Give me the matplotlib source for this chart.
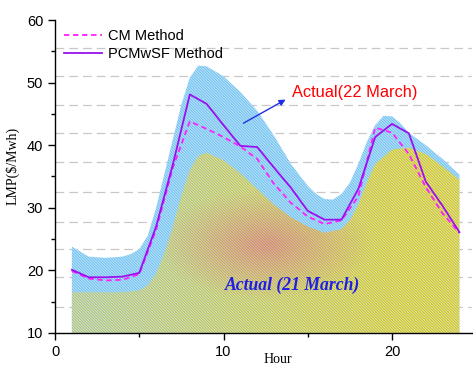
import numpy as np
import matplotlib.pyplot as plt
from matplotlib.patches import Polygon
from matplotlib.ticker import MultipleLocator

plt.rcParams['hatch.linewidth'] = 0.6

hours = list(range(1, 25))
cm_method = [19.9, 18.7, 18.4, 18.5, 19.4, 26.5, 36.5, 43.8, 42.6, 41.3, 39.8, 37.8,
             33.8, 30.8, 28.6, 27.4, 28.0, 31.8, 42.8, 42.0, 38.6, 33.3, 29.1, 26.0]
pcmwsf_method = [20.1, 18.9, 18.9, 19.0, 19.6, 27.0, 37.0, 48.1, 46.6, 43.2, 39.9, 39.7,
                 36.4, 33.2, 29.5, 28.1, 28.1, 33.0, 41.3, 43.4, 41.9, 34.2, 30.3, 26.1]

# actual prices, 22 March (half-hour points where the outline bends)
x_mar22 = [1, 2, 3, 4, 4.5, 5, 5.5, 6, 6.5, 7, 7.5, 8, 8.5, 9, 10, 11, 12, 13, 14, 15,
           15.5, 16, 16.5, 17, 17.5, 18, 18.5, 19, 19.5, 20, 20.5, 21, 22, 23, 24]
y_mar22 = [23.8, 22.2, 22.0, 22.2, 22.6, 23.4, 25.5, 30.0, 35.5, 41.0, 46.5, 50.8, 52.7,
           52.6, 51.0, 48.5, 45.5, 41.5, 37.0, 33.5, 32.2, 31.4, 31.3, 32.2, 34.0, 37.0,
           40.5, 43.2, 44.7, 44.6, 43.5, 42.0, 40.0, 37.8, 35.3]

# actual prices, 21 March
x_mar21 = [1, 2, 3, 4, 5, 5.5, 6, 6.5, 7, 7.5, 8, 8.5, 9, 10, 11, 12, 13, 14, 15, 16,
           17, 17.5, 18, 18.5, 19, 20, 21, 22, 23, 24]
y_mar21 = [16.5, 16.5, 16.5, 16.5, 16.8, 17.6, 19.5, 22.8, 27.0, 32.0, 36.0, 38.3, 38.8,
           37.6, 35.5, 33.0, 30.5, 28.5, 27.0, 26.0, 26.6, 28.0, 30.5, 34.0, 37.0, 39.3,
           39.6, 38.6, 36.6, 34.5]

grid_levels = [14.1, 18.9, 23.4, 27.8, 32.5, 37.3, 42.0, 46.5, 51.0, 55.6]
base = 10

fig = plt.figure(figsize=(4.73, 3.65), dpi=100)
ax = fig.add_axes([0.1163, 0.0877, 0.8817, 0.8575])

for g in grid_levels:
    ax.axhline(g, color='#c8c8c8', lw=0.9, ls=(0, (7, 4)), zorder=0.5)

# 22 March area, plain cyan
ax.fill_between(x_mar22, base, y_mar22, facecolor='#a8eaf8', edgecolor='none', lw=0, zorder=1)

# 21 March area, yellow/orange gradient clipped to its outline
xx, yy = np.meshgrid(np.linspace(0, 25, 300), np.linspace(10, 45, 200))
left_col = np.array([218, 234, 150]) / 255
right_col = np.array([248, 236, 70]) / 255
orange = np.array([246, 168, 112]) / 255
s = np.clip((xx - 2) / 18, 0, 1)[..., None]
img = left_col * (1 - s) + right_col * s
r = np.sqrt(((xx - 12.5) / 6.5) ** 2 + ((yy - 24) / 9) ** 2)
w = (np.clip(1 - r, 0, 1) ** 1.1)[..., None]
img = img * (1 - w) + orange * w
im = ax.imshow(img, extent=[0, 25, 10, 45], origin='lower', aspect='auto',
               interpolation='bilinear', zorder=2)
verts = list(zip(x_mar21, y_mar21)) + [(x_mar21[-1], base), (x_mar21[0], base)]
poly21 = Polygon(verts, closed=True, facecolor='none', edgecolor='none', transform=ax.transData)
ax.add_patch(poly21)
im.set_clip_path(poly21)

# dense hatch over the whole area
ax.fill_between(x_mar22, base, y_mar22, facecolor='none', edgecolor=(0.25, 0.38, 0.9, 0.42),
                hatch='\\' * 12, lw=0, zorder=3)

ax.plot(hours, cm_method, color='#ff20ff', ls=(0, (3, 2)), lw=1.3, label='CM Method', zorder=5)
ax.plot(hours, pcmwsf_method, color='#9b10f0', lw=1.3, label='PCMwSF Method', zorder=6)

ax.set_xlim(0, 24.75)
ax.set_ylim(10, 60)
ax.xaxis.set_major_locator(MultipleLocator(10))
ax.xaxis.set_minor_locator(MultipleLocator(5))
ax.yaxis.set_major_locator(MultipleLocator(10))
ax.yaxis.set_minor_locator(MultipleLocator(5))
ax.spines['top'].set_visible(False)
ax.spines['right'].set_visible(False)
for sp in ['left', 'bottom']:
    ax.spines[sp].set_linewidth(1.0)
ax.tick_params(which='major', direction='out', length=5, width=1, labelsize=10.5)
ax.tick_params(which='minor', direction='out', length=3, width=1)
for lab in ax.get_xticklabels() + ax.get_yticklabels():
    lab.set_family('Liberation Sans')

ax.set_ylabel('LMP($/Mwh)', family='Liberation Serif', fontsize=10)
ax.set_xlabel('Hour', family='Liberation Serif', fontsize=10)
ax.yaxis.set_label_coords(-0.085, 0.535)
ax.xaxis.set_label_coords(0.535, -0.065)

leg = ax.legend(loc='upper left', bbox_to_anchor=(0.0, 1.0), frameon=False,
                prop={'family': 'Liberation Sans', 'size': 10.5}, handlelength=2.6,
                handletextpad=0.4, labelspacing=0.3, borderaxespad=0.2)

ax.text(14.07, 48.4, 'Actual(22 March)', color='red', fontsize=11.8,
        family='Liberation Sans', va='center', zorder=7)
ax.annotate('', xy=(13.83, 47.5), xytext=(11.04, 43.3),
            arrowprops=dict(arrowstyle='-|>', color='#2030e0', lw=1.0, mutation_scale=9),
            zorder=7)
ax.text(14.07, 17.65, 'Actual (21 March)', ha='center', va='center', color='#1e1ee6',
        fontsize=12.7, fontweight='bold', fontstyle='italic', family='Liberation Serif', zorder=7)

fig.savefig('out.png', dpi=100)
